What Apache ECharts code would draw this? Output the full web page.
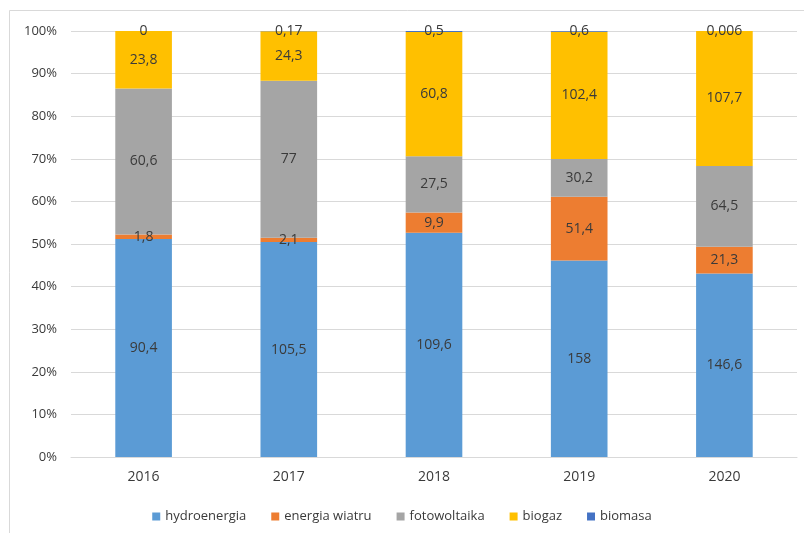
<!DOCTYPE html>
<html>
<head>
<meta charset="utf-8">
<script src="https://cdn.jsdelivr.net/npm/echarts@6/dist/echarts.min.js"></script>
<style>
  html, body { margin: 0; padding: 0; background: #ffffff; }
  #chart { width: 804px; height: 533px; }
</style>
</head>
<body>
<div id="chart"></div>
<script>
// Years on the category axis
const years = ['2016', '2017', '2018', '2019', '2020'];

// Energy produced per source (raw values shown as labels)
const hydroenergia = [90.4, 105.5, 109.6, 158, 146.6];
const energiaWiatru = [1.8, 2.1, 9.9, 51.4, 21.3];
const fotowoltaika = [60.6, 77, 27.5, 30.2, 64.5];
const biogaz = [23.8, 24.3, 60.8, 102.4, 107.7];
const biomasa = [0, 0.17, 0.5, 0.6, 0.006];

// Percent axis tick labels
const yTicks = ['0%', '10%', '20%', '30%', '40%', '50%', '60%', '70%', '80%', '90%', '100%'];

const seriesDefs = [
  { name: 'hydroenergia', values: hydroenergia, color: '#5B9BD5' },
  { name: 'energia wiatru', values: energiaWiatru, color: '#ED7D31' },
  { name: 'fotowoltaika', values: fotowoltaika, color: '#A5A5A5' },
  { name: 'biogaz', values: biogaz, color: '#FFC000' },
  { name: 'biomasa', values: biomasa, color: '#4472C4' }
];

// Column totals for the 100% stacking
const totals = years.map((_, i) => seriesDefs.reduce((s, d) => s + d.values[i], 0));

const fmt = v => String(v).replace('.', ',');
const FONT = 'Open Sans';
const TEXT = '#3a3a3a';

const chart = echarts.init(document.getElementById('chart'), null, { renderer: 'canvas' });

chart.setOption({
  animation: false,
  backgroundColor: '#ffffff',
  textStyle: { fontFamily: FONT },
  graphic: [{
    type: 'rect',
    shape: { x: 9.5, y: 10.5, width: 830, height: 560 },
    style: { fill: 'none', stroke: '#d9d9d9', lineWidth: 1 },
    silent: true,
    z: -10
  }],
  legend: {
    data: seriesDefs.map(d => d.name),
    top: 505,
    left: 'center',
    itemWidth: 8,
    itemHeight: 8,
    itemGap: 25,
    icon: 'rect',
    textStyle: { color: TEXT, fontSize: 13, fontFamily: FONT }
  },
  grid: { left: 71, right: 7, top: 31, bottom: 76, containLabel: false },
  xAxis: {
    type: 'category',
    data: years,
    axisLine: { show: true, lineStyle: { color: '#d9d9d9' } },
    axisTick: { show: false },
    axisLabel: { color: TEXT, fontSize: 14, margin: 13, fontFamily: FONT }
  },
  yAxis: {
    type: 'value',
    min: 0,
    max: 100,
    interval: 10,
    axisLine: { show: false },
    axisTick: { show: false },
    splitLine: { lineStyle: { color: '#d9d9d9', width: 1 } },
    axisLabel: {
      color: TEXT,
      fontSize: 13,
      margin: 14,
      fontFamily: FONT,
      formatter: v => yTicks[Math.round(v / 10)]
    }
  },
  series: seriesDefs.map(d => ({
    name: d.name,
    type: 'bar',
    stack: 'total',
    barWidth: '39%',
    itemStyle: { color: d.color },
    data: d.values.map((v, i) => ({ value: v / totals[i] * 100, raw: v })),
    label: {
      show: true,
      position: 'inside',
      color: TEXT,
      fontSize: 14,
      fontFamily: FONT,
      formatter: p => fmt(p.data.raw)
    }
  }))
});
</script>
</body>
</html>
